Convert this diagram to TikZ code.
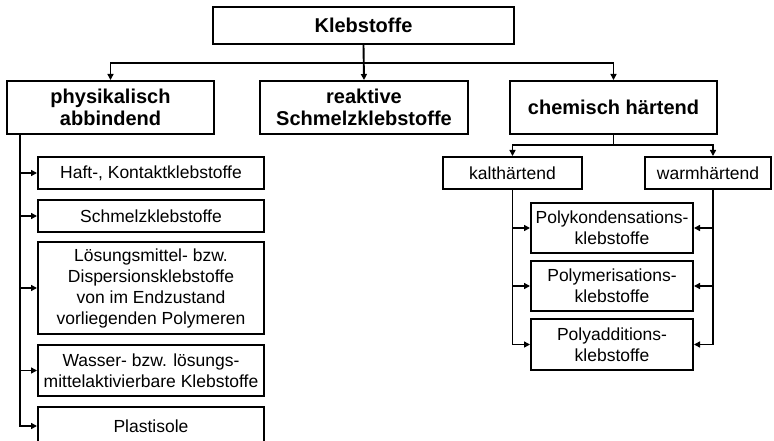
\documentclass[tikz,border=0pt]{standalone}
\usepackage{fontspec}
\setmainfont{Liberation Sans}
\usetikzlibrary{arrows.meta}

\tikzset{
    kasten/.style={draw, line width=2pt, align=center, inner sep=0pt,
        font=\fontsize{17.5}{21}\selectfont},
    fett/.style={kasten, font=\fontsize{20}{22.5}\selectfont\bfseries},
    linie/.style={line width=1.9pt},
    pfeil/.style={line width=1.9pt, -{Triangle[length=6pt,width=6pt]}},
}

\begin{document}
\begin{tikzpicture}[x=1pt,y=-1pt] %Einteilung der Klebstoffe
        \clip (0,0) rectangle (774,441);

        \coordinate (bus) at (0,63);
        \coordinate (cbus) at (0,145);
        \coordinate (lsp) at (20,134);
        \coordinate (wx) at (713,0);

        \node[fett, minimum width=301pt, minimum height=37pt] (kleb) at (363.5,25.5) {Klebstoffe};
        \node[fett, minimum width=207pt, minimum height=53pt] (phys) at (110.5,107.5) {physikalisch\\abbindend};
        \node[fett, minimum width=208pt, minimum height=53pt] (reak) at (364,107.5) {reaktive\\Schmelzklebstoffe};
        \node[fett, minimum width=207pt, minimum height=53pt] (chem) at (613.5,107.5) {chemisch härtend};

        \node[kasten, minimum width=226pt, minimum height=32pt] (haft) at (151,173) {Haft-, Kontaktklebstoffe};
        \node[kasten, minimum width=226pt, minimum height=32pt] (schm) at (151,216) {Schmelzklebstoffe};
        \node[kasten, minimum width=226pt, minimum height=92pt] (loes) at (151,288) {Lösungsmittel- bzw.\\Dispersionsklebstoffe\\von im Endzustand\\vorliegenden Polymeren};
        \node[kasten, minimum width=226pt, minimum height=51pt] (wass) at (151,370.5) {Wasser- bzw. lösungs-\\mittelaktivierbare Klebstoffe};
        \node[kasten, minimum width=226pt, minimum height=38pt] (plas) at (151,426) {Plastisole};

        \node[kasten, minimum width=139pt, minimum height=32pt] (kalt) at (512.5,173) {kalthärtend};
        \node[kasten, minimum width=126pt, minimum height=32pt] (warm) at (708,173) {warmhärtend};

        \node[kasten, minimum width=162pt, minimum height=50pt] (pkon) at (612,228) {Polykondensations-\\klebstoffe};
        \node[kasten, minimum width=162pt, minimum height=50pt] (pmer) at (612,286) {Polymerisations-\\klebstoffe};
        \node[kasten, minimum width=162pt, minimum height=51pt] (padd) at (612,344.5) {Polyadditions-\\klebstoffe};

        % erste Ebene
        \draw[pfeil] (kleb.south) -- (kleb.south |- bus) -| (phys.north);
        \draw[pfeil] (kleb.south) -- (reak.north);
        \draw[pfeil] (kleb.south |- bus) -| (chem.north);

        % physikalisch abbindend
        \draw[linie] (phys.south -| lsp) -- (lsp);
        \draw[pfeil] (lsp) |- (haft.west);
        \draw[pfeil] (lsp) |- (schm.west);
        \draw[pfeil] (lsp) |- (loes.west);
        \draw[pfeil] (lsp) |- (wass.west);
        \draw[pfeil] (lsp) |- (plas.west);

        % chemisch haertend
        \draw[linie] (chem.south) -- (chem.south |- cbus);
        \draw[pfeil] (chem.south |- cbus) -| (kalt.north);
        \draw[pfeil] (chem.south |- cbus) -| (warm.north -| wx);

        \draw[pfeil] (kalt.south) |- (pkon.west);
        \draw[pfeil] (kalt.south) |- (pmer.west);
        \draw[pfeil] (kalt.south) |- (padd.west);
        \draw[pfeil] (warm.south -| wx) |- (pkon.east);
        \draw[pfeil] (warm.south -| wx) |- (pmer.east);
        \draw[pfeil] (warm.south -| wx) |- (padd.east);
    \end{tikzpicture}
\end{document}
